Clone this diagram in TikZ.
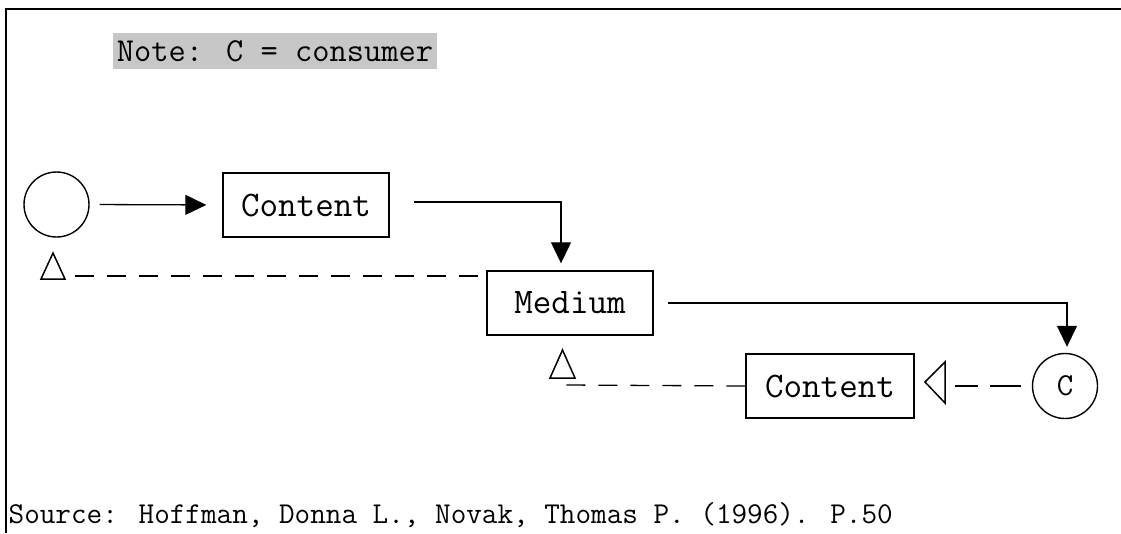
\documentclass[tikz,border=0pt]{standalone}
\usepackage{fontspec}
\usetikzlibrary{arrows.meta}
\begin{document}
\begin{tikzpicture}[x=1pt,y=-1pt, line width=1.3pt,
  box/.style={draw, line width=1.4pt, minimum width=166pt, minimum height=64pt, inner sep=0pt, font=\ttfamily\fontsize{36}{36}\selectfont},
  circ/.style={draw, circle, line width=1.4pt, minimum size=65pt, inner sep=0pt, font=\ttfamily\fontsize{32}{32}\selectfont},
  arr/.style={-{Triangle[length=21pt,width=20pt]}},
  dsh/.style={dash pattern=on 19pt off 13pt},
  dshc/.style={dash pattern=on 31pt off 12pt},
  tri/.style={draw, line width=1.5pt, line join=miter},
  frame/.style={line width=2pt}]
\useasboundingbox (0,0) rectangle (1121,533);
% frame
\draw[frame] (6,533) -- (6,9) -- (1121,9);
% note
\node[fill=black!22, minimum width=324pt, minimum height=36pt, inner sep=0pt,
      font=\ttfamily\fontsize{33.5}{33.5}\selectfont] (note) at (275,51) {Note: C = consumer};
% nodes
\node[circ] (src) at (56.5,204.5) {};
\node[box] (cont1) at (306,205) {Content};
\node[box] (med) at (570,303) {Medium};
\node[box, minimum width=168pt] (cont2) at (830,386) {Content};
\node[circ] (cons) at (1065,386) {C};
% solid connectors
\draw[arr, shorten <=10pt, shorten >=16pt] (src.east) -- (cont1.west);
\draw[arr, shorten >=7pt] ([xshift=24pt,yshift=3pt]cont1.east) -| ([xshift=-9pt]med.north);
\draw[arr, shorten >=6pt] ([xshift=14pt]med.east) -| ([xshift=2pt]cons.north);
% dashed feedback lines
\coordinate (d1) at (75,276);
\coordinate (d1e) at (478,276);
\draw[dsh] (d1) -- (d1e);
\coordinate (d2) at (566,385);
\draw[dsh] (cont2.west) -- (d2);
\coordinate (d3) at (955,386);
\draw[dshc] ([xshift=-11pt]cons.west) -- (d3);
% open triangles
\draw[tri] (41,279) -- (53,253) -- (65,279) -- cycle;
\draw[tri] (550,378) -- (562.5,350) -- (575,378) -- cycle;
\draw[tri] (945,362) -- (925,382) -- (945,403) -- cycle;
% source
\node[anchor=base west, inner sep=0pt, font=\ttfamily\fontsize{30.3}{30.3}\selectfont] (srcnote) at (8,523)
  {Source: Hoffman, Donna L., Novak, Thomas P. (1996). P.50};
\end{tikzpicture}
\end{document}
